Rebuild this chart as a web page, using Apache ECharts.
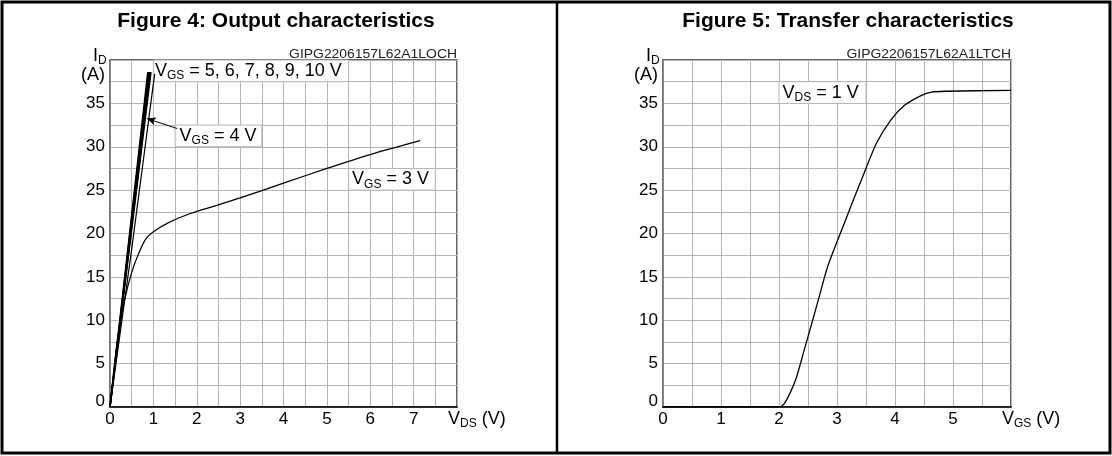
<!DOCTYPE html>
<html>
<head>
<meta charset="utf-8">
<script src="https://cdn.jsdelivr.net/npm/echarts@6/dist/echarts.min.js"></script>
<style>
  html, body { margin: 0; padding: 0; background: #fff; }
  #main { width: 1112px; height: 456px; }
</style>
</head>
<body>
<div id="main"></div>
<script>
  // tick labels
  const vdsTicks = [0, 1, 2, 3, 4, 5, 6, 7]
  const vgsTicks = [0, 1, 2, 3, 4, 5]
  const idTicks = [0, 5, 10, 15, 20, 25, 30, 35]

  // Figure 4: output characteristics, [VDS, ID]
  const vgs3 = [[0, 0], [0.17, 7.7], [0.34, 12.4], [0.5, 15.5], [0.67, 17.8], [0.83, 19.4], [1.0, 20.2],
    [1.33, 21.2], [1.85, 22.3], [2.5, 23.3], [3, 24.1], [4, 25.8], [5, 27.5], [6, 29.1], [7.15, 30.7]]
  const vgs4 = [[0, 0], [0.5, 18.2], [1.03, 38.4]]
  const vgs5 = [[0, 0], [0.945, 38.6]]
  const vgs6 = [[0, 0], [0.93, 38.6]]
  const vgs7 = [[0, 0], [0.915, 38.6]]
  const vgs8 = [[0, 0], [0.9, 38.6]]
  const vgs9 = [[0, 0], [0.885, 38.6]]
  const vgs10 = [[0, 0], [0.87, 38.6]]

  // Figure 5: transfer characteristics, [VGS, ID] at VDS = 1 V
  const transfer = [[0, 0], [2.0, 0], [2.08, 0.3], [2.19, 1.6], [2.3, 3.4], [2.44, 6.7], [2.58, 10],
    [2.68, 12.4], [2.83, 16], [2.98, 18.7], [3.14, 21.4], [3.29, 24], [3.47, 27.0],
    [3.68, 30.4], [3.93, 33.1], [4.17, 34.8], [4.45, 35.9], [4.63, 36.3], [4.87, 36.4], [6, 36.5]]

  const FONT = 'Liberation Sans, Arial, sans-serif'
  const gridColor = '#b4b4b4'

  const rich = {
    v: { fontSize: 18, fontFamily: FONT, color: '#000', lineHeight: 22 },
    s: { fontSize: 12, fontFamily: FONT, color: '#000', padding: [10, 0, 0, 0] },
  }

  const xAxisBase = (gridIndex, max, ticks) => ({
    type: 'value',
    gridIndex: gridIndex,
    min: 0,
    max: max,
    interval: 0.5,
    axisLine: { show: true, onZero: false, lineStyle: { color: '#000', width: 1.5 } },
    axisTick: { show: false },
    splitLine: { show: true, lineStyle: { color: gridColor, width: 1 } },
    axisLabel: {
      margin: 4,
      fontSize: 17,
      fontFamily: FONT,
      color: '#000',
      formatter: (v) => (ticks.includes(v) ? String(v) : ''),
    },
  })

  const yAxisBase = (gridIndex) => ({
    type: 'value',
    gridIndex: gridIndex,
    min: 0,
    max: 40,
    interval: 2.5,
    axisLine: { show: true, onZero: false, lineStyle: { color: '#7a7a7a', width: 1.5 } },
    axisTick: { show: false },
    splitLine: { show: true, lineStyle: { color: gridColor, width: 1 } },
    axisLabel: {
      margin: 5,
      fontSize: 17,
      fontFamily: FONT,
      color: '#000',
      formatter: (v) => {
        if (!idTicks.includes(v)) return ''
        return v === 0 ? '{z|0}' : String(v)
      },
      rich: { z: { fontSize: 17, fontFamily: FONT, color: '#000', padding: [0, 0, 12, 0] } },
    },
  })

  const box = (x0, x1, y0, y1, text, dist) => ({
    silent: true,
    itemStyle: { color: '#fff', borderColor: gridColor, borderWidth: 1 },
    label: {
      show: true,
      position: 'insideLeft',
      distance: dist,
      formatter: text,
      rich: rich,
    },
    data: [[{ xAxis: x0, yAxis: y1 }, { xAxis: x1, yAxis: y0 }]],
  })

  const lineSeries = (data, width, xi, extra) => Object.assign({
    type: 'line',
    data: data,
    xAxisIndex: xi,
    yAxisIndex: xi,
    showSymbol: false,
    symbol: 'none',
    lineStyle: { color: '#000', width: width },
    z: 5,
  }, extra || {})

  const option = {
    animation: false,
    backgroundColor: '#fff',
    grid: [
      { left: 110, top: 60, width: 347, height: 347, show: true, borderColor: '#333', borderWidth: 1.5 },
      { left: 663, top: 60, width: 348, height: 347, show: true, borderColor: '#333', borderWidth: 1.5 },
    ],
    xAxis: [xAxisBase(0, 8, vdsTicks), xAxisBase(1, 6, vgsTicks)],
    yAxis: [yAxisBase(0), yAxisBase(1)],
    series: [
      lineSeries(vgs3, 1.2, 0, {
        smooth: 0.3,
        markArea: box(5.5, 7.5, 25, 27.5, '{v|V}{s|GS}{v| = 3 V}', 4),
      }),
      lineSeries(vgs4, 1.2, 0, {
        markArea: box(1.5, 3.5, 30, 32.5, '{v|V}{s|GS}{v| = 4 V}', 5),
        markLine: {
          silent: true,
          symbol: ['none', 'arrow'],
          symbolSize: [6, 9],
          label: { show: false },
          lineStyle: { color: '#000', width: 1, type: 'solid' },
          data: [[{ coord: [1.55, 32.1] }, { coord: [0.85, 33.25] }]],
        },
      }),
      lineSeries(vgs5, 1.4, 0, {
        markArea: box(1, 5.5, 37.5, 40, '{v|V}{s|GS}{v| = 5, 6, 7, 8, 9, 10 V}', 2),
      }),
      lineSeries(vgs6, 1.4, 0),
      lineSeries(vgs7, 1.4, 0),
      lineSeries(vgs8, 1.4, 0),
      lineSeries(vgs9, 1.4, 0),
      lineSeries(vgs10, 1.4, 0),
      lineSeries(transfer, 1.3, 1, {
        smooth: 0.25,
        markArea: box(2, 3.5, 35, 37.5, '{v|V}{s|DS}{v| = 1 V}', 4),
      }),
    ],
    graphic: [
      { type: 'rect', shape: { x: 2, y: 2, width: 1108, height: 451 },
        style: { fill: 'none', stroke: '#000', lineWidth: 3 }, z: 100 },
      { type: 'line', shape: { x1: 557, y1: 2, x2: 557, y2: 453 },
        style: { stroke: '#000', lineWidth: 2.5 }, z: 100 },
      { type: 'text', x: 276, y: 21,
        style: { text: 'Figure 4: Output characteristics', fontSize: 21, fontWeight: 'bold', fontFamily: FONT,
          fill: '#000', align: 'center', verticalAlign: 'middle' } },
      { type: 'text', x: 848, y: 21,
        style: { text: 'Figure 5: Transfer characteristics', fontSize: 21, fontWeight: 'bold', fontFamily: FONT,
          fill: '#000', align: 'center', verticalAlign: 'middle' } },
      // axis names
      { type: 'text', x: 93, y: 56,
        style: { text: '{v|I}{s|D}', rich: rich, align: 'left', verticalAlign: 'middle' } },
      { type: 'text', x: 105, y: 75,
        style: { text: '(A)', fontSize: 18, fontFamily: FONT, fill: '#000', align: 'right', verticalAlign: 'middle' } },
      { type: 'text', x: 646, y: 56,
        style: { text: '{v|I}{s|D}', rich: rich, align: 'left', verticalAlign: 'middle' } },
      { type: 'text', x: 658, y: 75,
        style: { text: '(A)', fontSize: 18, fontFamily: FONT, fill: '#000', align: 'right', verticalAlign: 'middle' } },
      { type: 'text', x: 448, y: 419,
        style: { text: '{v|V}{s|DS}{v| (V)}', rich: rich, align: 'left', verticalAlign: 'middle' } },
      { type: 'text', x: 1002, y: 419,
        style: { text: '{v|V}{s|GS}{v| (V)}', rich: rich, align: 'left', verticalAlign: 'middle' } },
      // drawing codes
      { type: 'text', x: 457, y: 61, scaleX: 1.16,
        style: { text: 'GIPG2206157L62A1LOCH', fontSize: 12, fontFamily: FONT, fill: '#222',
          align: 'right', verticalAlign: 'bottom' } },
      { type: 'text', x: 1011, y: 61, scaleX: 1.16,
        style: { text: 'GIPG2206157L62A1LTCH', fontSize: 12, fontFamily: FONT, fill: '#222',
          align: 'right', verticalAlign: 'bottom' } },
    ],
  }

  const chart = echarts.init(document.getElementById('main'))
  chart.setOption(option)
</script>
</body>
</html>
